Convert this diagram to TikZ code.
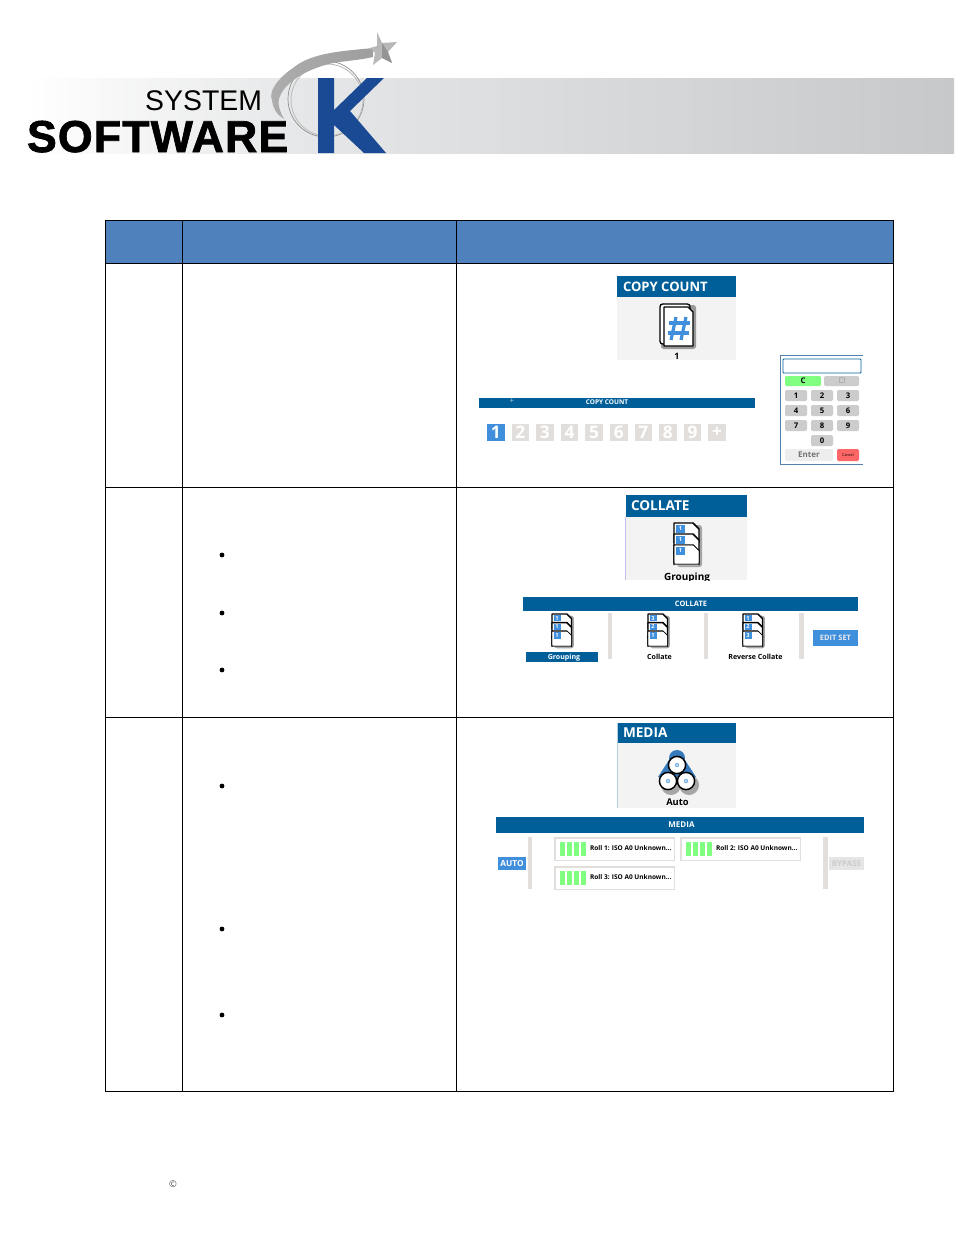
\documentclass[tikz,border=0pt]{standalone}
\usepackage{fontspec}
\setmainfont{Open Sans}
\newfontfamily\logofont{Liberation Sans}[BoldFeatures={FakeBold=1.6}]
\newfontfamily\symfont{DejaVu Sans}
\definecolor{hdr}{HTML}{4F81BD}
\definecolor{bar}{HTML}{005F99}
\definecolor{tile}{HTML}{F3F3F3}
\definecolor{act}{HTML}{3F8FDC}
\definecolor{off}{HTML}{E2DEDC}
\definecolor{grn}{HTML}{80FF80}
\definecolor{kblue}{HTML}{1B4A94}
\definecolor{bandmid}{HTML}{E6E7E8}
\definecolor{bandend}{HTML}{C6C8CA}
\tikzset{
  x=0.75pt,y=-0.75pt,
  tx/.style={inner sep=0pt,outer sep=0pt},
  titletx/.style={tx,anchor=west,text=white,font=\bfseries\fontsize{10.2}{12}\selectfont},
  bartx/.style={tx,text=white,font=\bfseries\fontsize{5.6}{7}\selectfont},
  lbl/.style={tx,text=black,font=\bfseries\fontsize{6.6}{8}\selectfont},
  small/.style={tx,text=black,font=\bfseries\fontsize{4.9}{6}\selectfont},
  key/.style={fill=black!20,rounded corners=1pt},
  keytx/.style={tx,text=black,font=\bfseries\fontsize{5.8}{7}\selectfont},
  sepbar/.style={fill=off},
  rollbox/.style={draw=off,line width=1.2pt,fill=white},
  grid line/.style={draw=black,line width=0.6pt},
  bul/.style={fill=black},
}
% page stack icon: top-left at (#1,#2), scale #3, tabs #4 #5 #6
\newcommand{\pagestack}[6]{%
\begin{scope}[shift={(#1,#2)},scale=#3]
  \fill[black!35,rounded corners=2pt] (3,2) rectangle (28,44);
  \foreach \yy/\lab in {0/#4,11/#5,22/#6}{
    \draw[fill=white,line width=1.1pt,line join=round] (0,\yy+20) -- (0,\yy) -- (19,\yy) -- (25,\yy+6) -- (25,\yy+20);
    \fill[act] (2,\yy+1.5) rectangle (11,\yy+9.5);
    \node[tx,text=white,font=\bfseries\fontsize{4.2}{5}\selectfont] at (6.5,\yy+5.5) {\lab};
  }
  \draw[fill=white,line width=1.1pt,line join=round,rounded corners=1pt] (0,28) -- (0,41) -- (25,41) -- (25,28);
  \fill[white] (0.5,22.5) -- (0.5,40.5) -- (24.5,40.5) -- (24.5,28) -- (19,22.5) -- cycle;
  \fill[act] (2,23.5) rectangle (11,31.5);
  \node[tx,text=white,font=\bfseries\fontsize{4.2}{5}\selectfont] at (6.5,27.5) {#6};
\end{scope}}
\begin{document}
\begin{tikzpicture}
\useasboundingbox (0,0) rectangle (954,1235);
\fill[white] (0,0) rectangle (954,1235);

% ---- banner
\shade[left color=white,right color=bandmid] (27,78) rectangle (300,153);
\shade[left color=bandmid,right color=bandend] (300,78) rectangle (954,153);
\draw[black!45,line width=0.5pt] (326,99) circle[radius=38];
\draw[black!25,line width=0.7pt] (327,100) circle[radius=36];
\shade[left color=black!32,middle color=black!12,right color=black!38] (373,48) .. controls (345,51) and (312,52) .. (293,68)
   .. controls (278,78) and (268,92) .. (272,100)
   .. controls (273,108) and (276,114) .. (284,119)
   .. controls (278,108) and (277,100) .. (281,94)
   .. controls (288,80) and (310,68) .. (333,63)
   .. controls (345,61) and (360,60) .. (373,57) -- cycle;
\fill[black!28] (377,32) -- (382,43) -- (397,42) -- (388,52) -- (392,63) -- (382,58) -- (373,65) -- (375,53) -- (370,48) -- (377,46) -- cycle;
\fill[black!42] (382,43) -- (388,52) -- (392,63) -- (382,58) -- cycle;
\fill[kblue] (318,78) -- (334,78) -- (334,110) -- (367,78) -- (384,78) -- (350,111) -- (386,153) -- (364,153) -- (334,125) -- (334,153) -- (318,153) -- cycle;
\node[tx,anchor=base east,font=\logofont\fontsize{21.3}{24}\selectfont] (logoA) at (262,110) {SYSTEM};
\node[tx,anchor=base west,font=\logofont\bfseries\fontsize{33.5}{36}\addfontfeature{LetterSpace=2.6}] (logoB) at (27,152) {SOFTWARE};

% ---- table
\fill[hdr] (105,220) rectangle (893,263);
\draw[grid line] (105,220) rectangle (893,1091);
\draw[grid line] (105,263) -- (893,263);
\draw[grid line] (105,487) -- (893,487);
\draw[grid line] (105,717) -- (893,717);
\draw[grid line] (182,220) -- (182,1091);
\draw[grid line] (456,220) -- (456,1091);
\foreach \yy in {555,613,670,786,929,1015}
  \fill[bul] (222,\yy) circle[radius=2.4];

% ---- copy count tile
\fill[tile] (617,297) rectangle (736,360);
\fill[bar] (617,276) rectangle (736,297);
\node[titletx,font=\bfseries\fontsize{9.8}{12}\selectfont] (t1) at (623,286.5) {COPY COUNT};
\fill[black!40,rounded corners=2pt] (661,305) rectangle (696,349);
\draw[fill=white,line width=1pt,rounded corners=2pt] (660,304) rectangle (690,344);
\draw[fill=white,line width=1pt,line join=round] (664,307) -- (688,307) -- (693,312) -- (693,346) -- (664,346) -- cycle;
\begin{scope}[draw=act,line width=2.4pt]
  \draw (676,317) -- (671,340);
  \draw (686,317) -- (681,340);
  \draw (669,323) -- (690,323);
  \draw (668,333) -- (689,333);
\end{scope}
\node[lbl] (t1v) at (677,356) {1};

% ---- copy count bar
\fill[bar] (479,398) rectangle (755,408);
\node[bartx,font=\bfseries\fontsize{4.9}{6}\selectfont] (b1) at (607,402) {COPY COUNT};
\node[tx,text=white!70!bar,font=\fontsize{6}{7}\selectfont] (b1p) at (512,401) {+};
\fill[act] (487,424) rectangle (504.5,441);
\node[tx,text=white,font=\bfseries\fontsize{13}{14}\selectfont] (n1) at (495.7,432.5) {1};
\foreach \n [count=\i from 1] in {2,3,4,5,6,7,8,9,+}{
  \fill[off] ({487+24.6*\i},424) rectangle ({504.5+24.6*\i},441);
  \node[tx,text=white,font=\bfseries\fontsize{13}{14}\selectfont] (n\i x) at ({495.7+24.6*\i},432.5) {\n};
}

% ---- keypad
\draw[draw=act!70!black!80,line width=0.6pt] (863,355) -- (780,355) -- (780,464) -- (863,464);
\draw[draw=bar,line width=0.7pt,fill=white,rounded corners=0.5pt] (783,359) rectangle (861,373);
\fill[grn,rounded corners=1pt] (785,376) rectangle (821,386);
\node[keytx] (kc) at (803,381) {C};
\fill[key] (824,376) rectangle (859,386);
\node[tx,text=black!50,font=\symfont\fontsize{5}{6}\selectfont] (kb) at (842,381) {□};
\foreach \lab/\xx/\yy in {1/785/390,2/811/390,3/837/390,4/785/405,5/811/405,6/837/405,7/785/420,8/811/420,9/837/420,0/811/435}{
  \fill[key] (\xx,\yy) rectangle (\xx+22,\yy+11);
  \node[keytx] (k\lab) at (\xx+11,\yy+5.5) {\lab};
}
\fill[black!7,rounded corners=1pt] (785,449) rectangle (833,461);
\node[tx,text=black!55,font=\bfseries\fontsize{6}{7}\selectfont] (kent) at (809,455) {Enter};
\fill[red!60,rounded corners=1pt] (837,449) rectangle (859,461);
\node[tx,text=black,font=\fontsize{2.8}{3}\selectfont] (kcan) at (848,455) {Cancel};

% ---- collate tile
\fill[tile] (625.5,517) rectangle (747,580);
\fill[bar] (625.5,495) rectangle (747,517);
\draw[black!25!blue!25,line width=0.6pt] (625.5,517) -- (625.5,580);
\node[titletx] (t2) at (631,505.5) {COLLATE};
\pagestack{674}{523}{1}{1}{1}{1}
\begin{scope}
  \clip (625,565) rectangle (747,580);
  \node[lbl,font=\bfseries\fontsize{7.5}{8}\selectfont] (t2v) at (687,577.5) {Grouping};
\end{scope}

% ---- collate bar
\fill[bar] (523,597) rectangle (858,611);
\node[bartx] (b2) at (691,604) {COLLATE};
\pagestack{552}{614}{0.78}{1}{1}{1}
\pagestack{648}{614}{0.78}{3}{2}{1}
\pagestack{743}{614}{0.78}{1}{2}{3}
\fill[bar] (526,652) rectangle (598,662);
\node[small,text=white,font=\bfseries\fontsize{5.3}{6}\selectfont] (c1) at (564,657.5) {Grouping};
\node[small,font=\bfseries\fontsize{5.3}{6}\selectfont] (c2) at (659.5,657) {Collate};
\node[small,font=\bfseries\fontsize{5.3}{6}\selectfont] (c3) at (755.5,657) {Reverse Collate};
\fill[sepbar] (608,613) rectangle (612,659);
\fill[sepbar] (704,613) rectangle (708,659);
\fill[sepbar] (799,613) rectangle (804,659);
\fill[act] (813,630) rectangle (858,646);
\node[bartx,text=black!8,font=\bfseries\fontsize{5.6}{7}\selectfont] (es) at (835.5,638) {EDIT SET};

% ---- media tile
\fill[tile] (617,743) rectangle (736,808);
\fill[bar] (617,723) rectangle (736,743);
\draw[white!70!bar,line width=0.5pt] (617,723) -- (617,808);
\node[titletx] (t3) at (623,732.5) {MEDIA};
\fill[black!35] (671,785) circle[radius=10];
\fill[black!35] (689,785) circle[radius=10];
\fill[act!85!black] (677,758) circle[radius=8];
\fill[act!85!black] (669,760) -- (685,760) -- (696,777) -- (658,777) -- cycle;
\foreach \cx/\cy in {668/781,686/781,677/765}{
  \draw[fill=white,line width=1.1pt] (\cx,\cy) circle[radius=8.6];
  \fill[act!70] (\cx,\cy) circle[radius=2.2];
  \fill[white] (\cx,\cy) circle[radius=0.8];
}
\node[lbl,font=\bfseries\fontsize{7}{8}\selectfont] (t3v) at (677.5,802.5) {Auto};

% ---- media bar
\fill[bar] (496,817) rectangle (864,833);
\node[bartx,font=\bfseries\fontsize{6}{7}\selectfont] (b3) at (681.5,825) {MEDIA};
\fill[act] (498,857) rectangle (526,870);
\node[bartx,font=\bfseries\fontsize{6.2}{7}\selectfont] (au) at (512,863.5) {AUTO};
\fill[sepbar] (528,837) rectangle (532,889);
\fill[sepbar] (823,837) rectangle (828,889);
\fill[black!10] (829,857) rectangle (864,870);
\node[bartx,text=black!20,font=\bfseries\fontsize{6}{7}\selectfont] (bp) at (846.5,863.5) {BYPASS};
\foreach \bx/\bz/\n in {554/837/1,680/837/2,554/866/3}{
  \draw[rollbox] (\bx+.7,\bz+.7) rectangle (\bx+120.3,\bz+23.3);
  \foreach \k in {0,1,2,3}
    \fill[grn] (\bx+6+7*\k,\bz+5) rectangle (\bx+10.5+7*\k,\bz+18.5);
  \node[small,anchor=west] (r\n) at (\bx+36,\bz+11.5) {Roll \n: ISO A0 Unknown...};
}

% ---- footer
\node[tx,text=black!70,font=\fontsize{7}{8}\selectfont] (cr) at (173,1184) {©};
\end{tikzpicture}
\end{document}
